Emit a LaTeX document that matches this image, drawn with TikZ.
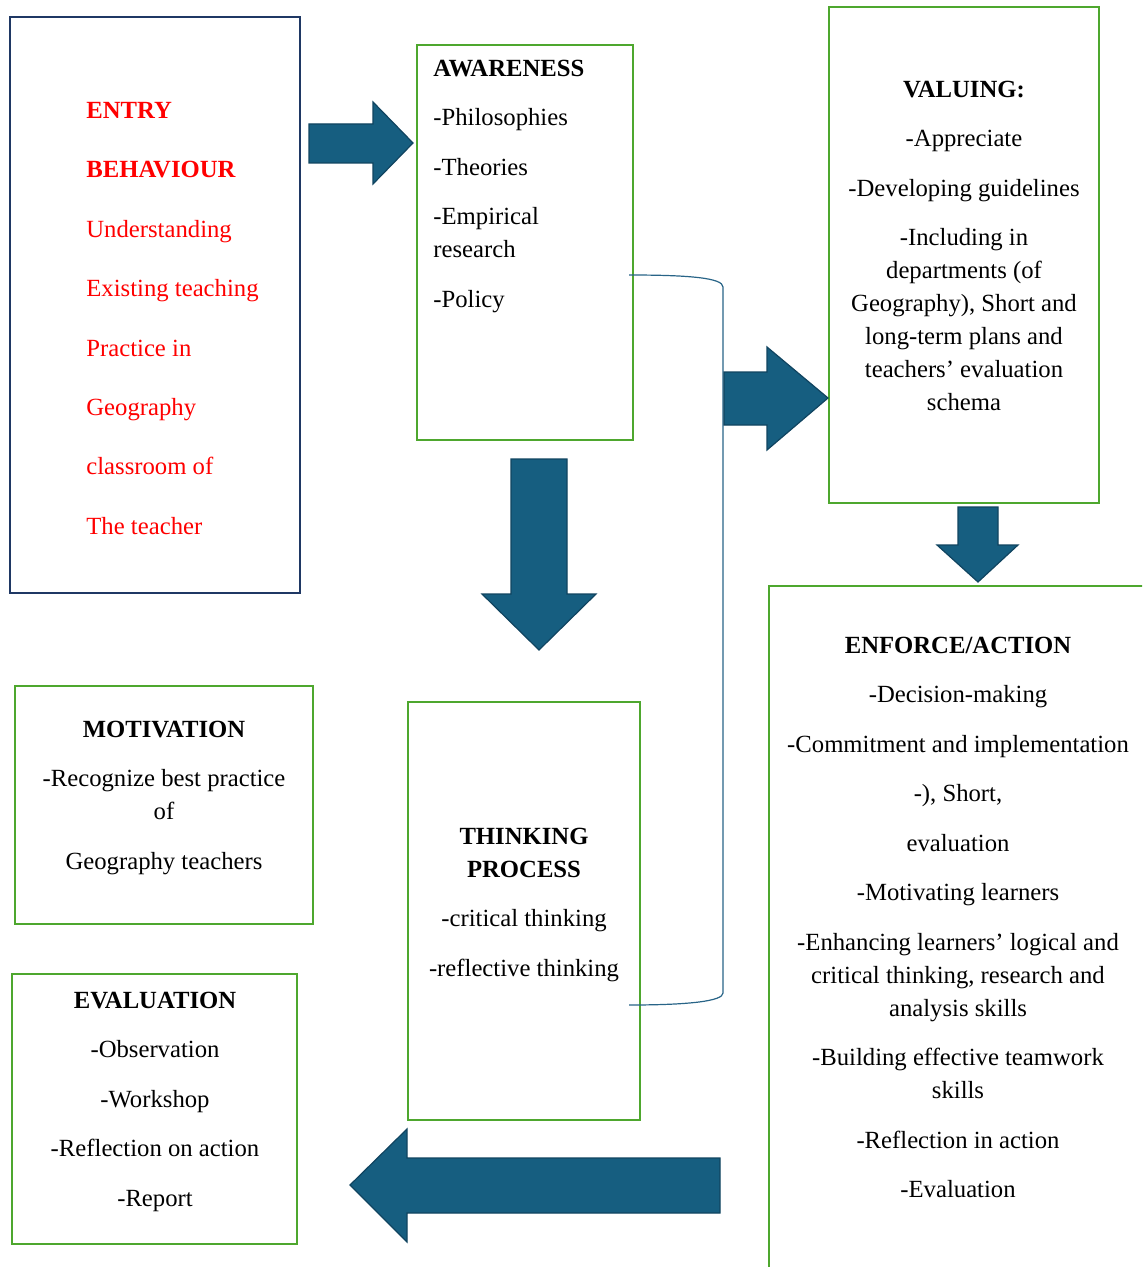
\documentclass[tikz,border=0pt]{standalone}
\usepackage{fontspec}
\setmainfont{Liberation Serif}
\usepackage{tikz}
\usetikzlibrary{fit}
\usetikzlibrary{positioning}

\definecolor{arrowblue}{RGB}{22,94,128}
\definecolor{arrowedge}{RGB}{16,68,96}
\definecolor{boxgreen}{RGB}{78,167,46}
\definecolor{boxnavy}{RGB}{31,56,100}
\definecolor{linkblue}{RGB}{40,100,135}

% first line of each text block gets a fixed height
\newcommand{\firstline}{\rule{0pt}{12pt}}

\begin{document}
\begin{tikzpicture}[x=0.5pt, y=-0.5pt,
        greenbox/.style={draw=boxgreen, line width=1pt, inner sep=0pt},
        navybox/.style={draw=boxnavy, line width=1pt, inner sep=0pt},
        blockarrow/.style={fill=arrowblue, draw=arrowedge, line width=0.6pt, line join=miter},
        boxtext/.style={font=\fontsize{12.35}{16.5}\selectfont, inner sep=0pt},
        entrytext/.style={font=\fontsize{12.35}{29.7}\selectfont, text=red, inner sep=0pt, align=left, anchor=north west}]
            \useasboundingbox (0,0) rectangle (1142,1267);
            \clip (0,0) rectangle (1142,1267);

            % boxes
            \node[navybox, fit={(10,17) (300,593)}] (entry) {};
            \node[greenbox, fit={(417,45) (633,440)}] (aware) {};
            \node[greenbox, fit={(829,7) (1099,503)}] (valuing) {};
            \node[greenbox, fit={(769,586) (1160,1290)}] (enforce) {};
            \node[greenbox, fit={(15,686) (313,924)}] (motiv) {};
            \node[greenbox, fit={(408,702) (640,1120)}] (thinking) {};
            \node[greenbox, fit={(12,974) (297,1244)}] (evaluation) {};

            % bracket joining awareness and thinking
            \coordinate (brtop) at (629,275);
            \coordinate (brbot) at (629,1005);
            \draw[linkblue, line width=0.6pt] (brtop) .. controls (690,275) and (723,278) .. (723,287)
                -- (723,993) .. controls (723,1001) and (690,1005) .. (brbot);

            % block arrows
            \draw[blockarrow] (309,124) -- (373,124) -- (373,102) -- (413,143) -- (373,184) -- (373,163) -- (309,163) -- cycle;
            \draw[blockarrow] (724,372) -- (767,372) -- (767,347) -- (828,398) -- (767,450) -- (767,425) -- (724,425) -- cycle;
            \draw[blockarrow] (511,459) -- (567,459) -- (567,594) -- (596,594) -- (539,650) -- (482,594) -- (511,594) -- cycle;
            \draw[blockarrow] (958,507) -- (998,507) -- (998,545) -- (1018,545) -- (978,582) -- (937,545) -- (958,545) -- cycle;
            \draw[blockarrow] (720,1158) -- (407,1158) -- (407,1129) -- (350,1185) -- (407,1242) -- (407,1213) -- (720,1213) -- cycle;

            % texts
            \node[entrytext] (entrytxt) at (86,94) {\firstline\textbf{ENTRY}\\\textbf{BEHAVIOUR}\\Understanding\\Existing teaching\\Practice in\\Geography\\classroom of\\The teacher};

            \node[boxtext, align=left, anchor=north west] (awaretxt) at (433,52)
                {\firstline\textbf{AWARENESS}\\[8.25pt]-Philosophies\\[8.25pt]-Theories\\[8.25pt]-Empirical\\research\\[8.25pt]-Policy};

            \node[boxtext, align=center, anchor=north] (valuingtxt) at (964,73)
                {\firstline\textbf{VALUING:}\\[8.25pt]-Appreciate\\[8.25pt]-Developing guidelines\\[8.25pt]-Including in\\departments (of\\Geography), Short and\\long-term plans and\\teachers’ evaluation\\schema};

            \node[boxtext, align=center, anchor=north] (enforcetxt) at (958,629)
                {\firstline\textbf{ENFORCE/ACTION}\\[8.25pt]-Decision-making\\[8.25pt]-Commitment and implementation\\[8.25pt]-), Short,\\[8.25pt]evaluation\\[8.25pt]-Motivating learners\\[8.25pt]-Enhancing learners’ logical and\\critical thinking, research and\\analysis skills\\[8.25pt]-Building effective teamwork\\skills\\[8.25pt]-Reflection in action\\[8.25pt]-Evaluation};

            \node[boxtext, align=center, anchor=north] (motivtxt) at (164,713)
                {\firstline\textbf{MOTIVATION}\\[8.25pt]-Recognize best practice\\of\\[8.25pt]Geography teachers};

            \node[boxtext, align=center, anchor=north] (thinkingtxt) at (524,820)
                {\firstline\textbf{THINKING}\\\textbf{PROCESS}\\[8.25pt]-critical thinking\\[8.25pt]-reflective thinking};

            \node[boxtext, align=center, anchor=north] (evaltxt) at (155,984)
                {\firstline\textbf{EVALUATION}\\[8.25pt]-Observation\\[8.25pt]-Workshop\\[8.25pt]-Reflection on action\\[8.25pt]-Report};
        \end{tikzpicture}
\end{document}
